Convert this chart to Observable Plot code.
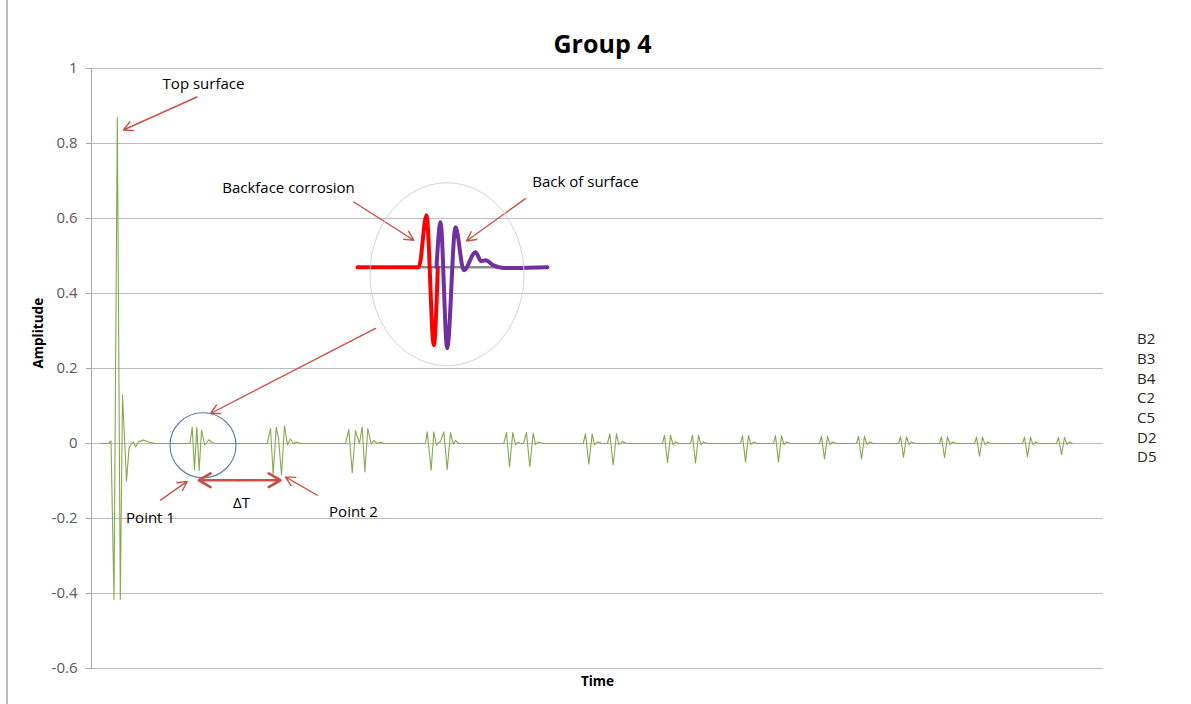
<!DOCTYPE html>
<html><head><meta charset="utf-8">
<script src="https://cdn.jsdelivr.net/npm/d3@7"></script>
<script src="https://cdn.jsdelivr.net/npm/@observablehq/plot@0.6"></script>
<style>
body{margin:0;background:#fff}
#chart{position:relative;width:1191px;height:704px}
</style></head><body><div id="chart"></div>
<script>
// ---------- data (time in arbitrary units, amplitude) ----------
const yTicks = [-0.6, -0.4, -0.2, 0, 0.2, 0.4, 0.6, 0.8, 1];
const legendLabels = ["B2", "B3", "B4", "C2", "C5", "D2", "D5"];

const mainPulse = [[9,0],[17,0],[19.5,0.007],[22.5,-0.415],[25.8,0.87],[28.8,-0.415],[31,0.13],[35,-0.10],[37.5,-0.013],[40,0],[42,0.004],[44,-0.009],[47.5,0.005],[52,0.009],[57,0.004],[64,0]];
const echo1 = [[97,0],[98.5,0],[100.7,0.043],[103,-0.070],[105.3,0.043],[107.7,-0.072],[110,0.036],[113.3,-0.004],[117.3,0.010],[120.7,0.002],[124,0]];
const echo2 = [[175.7,0],[179,0.040],[181.7,-0.082],[184.7,0.043],[187,0.015],[190,-0.084],[193,0.047],[196,-0.004],[199,0.012],[202,0],[205,0.004],[209,0]];
const echo3 = [[254,0],[257.3,0.037],[260.7,-0.078],[264,0.034],[268,0],[270.7,0.044],[273.3,-0.076],[276.3,0.040],[279.7,-0.002],[282.3,0.008],[285.7,0],[289,0.003],[293,0]];
const echo4 = [[334,0],[335.7,0.031],[339.7,-0.071],[342.3,0.031],[345,-0.004],[347.3,0.003],[349,0.005],[352.3,0.031],[355.7,-0.069],[359,0.029],[361.7,-0.002],[364,0.008],[367.3,0]];
const echo5 = [[412.3,0],[415,0.029],[418,-0.062],[421.3,0.029],[424,-0.003],[426.3,0.003],[429,0],[432,0],[435,0.029],[438.3,-0.062],[441.7,0.028],[444,-0.003],[446.3,0.004],[449,0.002],[454,0]];
const echo6 = [[491.7,0],[494,0.026],[497.3,-0.055],[500.7,0.026],[503,-0.003],[506.3,0.004],[510.7,0],[516,0],[518.3,0.026],[521.7,-0.057],[525,0.026],[527.3,-0.003],[530.7,0.005],[535.7,0]];
const echo7 = [[571,0],[573,0.022],[576,-0.051],[579,0.022],[581.5,-0.003],[584,0.004],[588,0],[599,0],[601,0.022],[604,-0.052],[607,0.022],[609.5,-0.003],[612,0.004],[616,0]];
const echo8 = [[649,0],[651,0.021],[654,-0.049],[657,0.021],[659.5,-0.003],[662,0.004],[666,0],[682,0],[684,0.021],[687,-0.049],[690,0.021],[692.5,-0.003],[695,0.004],[699,0]];
const echo9 = [[728,0],[730,0.019],[733,-0.041],[736,0.019],[738.5,-0.003],[741,0.004],[745,0],[765,0],[767,0.019],[770,-0.042],[773,0.019],[775.5,-0.003],[778,0.004],[782,0]];
const echo10 = [[807,0],[809,0.018],[812,-0.037],[815,0.018],[817.5,-0.003],[820,0.004],[824,0],[848,0],[850,0.018],[853,-0.038],[856,0.018],[858.5,-0.003],[861,0.004],[865,0]];
const echo11 = [[883,0],[885,0.017],[888,-0.034],[891,0.017],[893.5,-0.003],[896,0.004],[900,0],[931,0],[933,0.017],[936,-0.035],[939,0.017],[941.5,-0.003],[944,0.004],[948,0]];
const echo12 = [[965,0],[967,0.016],[970,-0.030],[973,0.016],[975.5,-0.003],[978,0.004],[981,0]];

// inset (zoomed echo) drawn in chart coordinates
const insetGray = [[326,0.470],[441,0.470]];
const insetRed = [[266,0.470],[327.3,0.470],[335,0.609],[342.3,0.262],[346.3,0.470]];
const insetPurple = [[345,0.470],[349,0.590],[355.7,0.254],[364,0.577],[372.3,0.462],[384,0.510],[389.7,0.486],[394,0.489],[402,0.475],[412,0.468],[424,0.468],[456,0.470]];

// annotations
const labelText = ["Top surface", "Backface corrosion", "Back of surface", "Point 1", "\u0394T", "Point 2"];
const labelT = [112, 197, 494, 59, 150, 262];
const labelA = [0.958, 0.681, 0.697, -0.199, -0.159, -0.182];
const arrowsThin = [
  {x1:105.4, y1:0.924, x2:31.9, y2:0.836},
  {x1:262.3, y1:0.644, x2:322.3, y2:0.542},
  {x1:434, y1:0.653, x2:375, y2:0.540},
  {x1:284, y1:0.307, x2:119, y2:0.080},
  {x1:69, y1:-0.151, x2:95.7, y2:-0.101},
  {x1:225.7, y1:-0.138, x2:194, y2:-0.089}
];
const deltaT = {from:107.3, to:189, a:-0.098};
const insetEllipse = {t:356, a:0.450, rx:77, ry:0.244};
const echoCircle = {t:112, a:-0.006, rx:33, ry:0.0867};

// ---------- build ----------
const toRows = arr => arr.map(([t, a]) => ({t, a}));
const trace = toRows([...mainPulse, ...echo1, ...echo2, ...echo3, ...echo4, ...echo5, ...echo6,
  ...echo7, ...echo8, ...echo9, ...echo10, ...echo11, ...echo12]);
const labels = labelText.map((s, i) => ({s, t: labelT[i], a: labelA[i]}));
const midT = (deltaT.from + deltaT.to) / 2;
const dtArrows = [
  {x1: midT, y1: deltaT.a, x2: deltaT.from, y2: deltaT.a},
  {x1: midT, y1: deltaT.a, x2: deltaT.to, y2: deltaT.a}
];
const FONT = "'Open Sans', 'DejaVu Sans', sans-serif";
const ARROW = "#c9504a";

const chart = Plot.plot({
  width: 1191, height: 704,
  marginLeft: 91, marginRight: 88, marginTop: 68, marginBottom: 36,
  style: {fontFamily: FONT, fontSize: "15px", background: "#fff", color: "#595959"},
  x: {domain: [0, 1012], axis: null},
  y: {domain: [-0.6, 1], axis: null},
  marks: [
    Plot.gridY(yTicks, {stroke: "#bdbdbd", strokeOpacity: 1}),
    Plot.ruleX([0], {stroke: "#a6a6a6"}),
    Plot.axisY({ticks: yTicks, tickSize: 5, tickPadding: 9, label: null,
      tickFormat: d => String(d), stroke: "#a6a6a6", fill: "#595959", fontSize: 15}),
    Plot.line(trace, {x: "t", y: "a", stroke: "#86a84f", strokeWidth: 1.1}),
    Plot.line(toRows(insetGray), {x: "t", y: "a", stroke: "#8c8c8c", strokeWidth: 2.5}),
    Plot.line(toRows(insetRed), {x: "t", y: "a", stroke: "#ff0000", strokeWidth: 4, curve: "monotone-x", strokeLinejoin: "round"}),
    Plot.line(toRows(insetPurple), {x: "t", y: "a", stroke: "#7030a0", strokeWidth: 4, curve: "monotone-x", strokeLinejoin: "round"}),
    Plot.arrow(arrowsThin, {x1: "x1", y1: "y1", x2: "x2", y2: "y2", stroke: ARROW, strokeWidth: 1.4, headLength: 11, headAngle: 55}),
    Plot.arrow(dtArrows, {x1: "x1", y1: "y1", x2: "x2", y2: "y2", stroke: ARROW, strokeWidth: 2.6, headLength: 12, headAngle: 60}),
    Plot.text(labels, {x: "t", y: "a", text: "s", fill: "#000", fontSize: 15}),
    Plot.text(["Group 4"], {frameAnchor: "top", dx: 5, dy: -33, fontSize: 25, fontWeight: "bold", fill: "#000"}),
    Plot.text(["Amplitude"], {frameAnchor: "left", dx: -53, rotate: -90, fontSize: 13.5, fontWeight: "bold", fill: "#000"}),
    Plot.text(["Time"], {frameAnchor: "bottom", dy: 17, fontSize: 13.5, fontWeight: "bold", fill: "#000"})
  ]
});
document.getElementById("chart").append(chart);

const sx = chart.scale("x"), sy = chart.scale("y");
const svg = d3.select(chart);
const px = t => sx.apply(t), py = a => sy.apply(a);
const pxLen = r => sx.apply(r) - sx.apply(0);
const pyLen = r => sy.apply(0) - sy.apply(r);

svg.append("ellipse")
  .attr("cx", px(insetEllipse.t)).attr("cy", py(insetEllipse.a))
  .attr("rx", pxLen(insetEllipse.rx)).attr("ry", pyLen(insetEllipse.ry))
  .attr("fill", "none").attr("stroke", "#cfd4de").attr("stroke-width", 1);
svg.append("ellipse")
  .attr("cx", px(echoCircle.t)).attr("cy", py(echoCircle.a))
  .attr("rx", pxLen(echoCircle.rx)).attr("ry", pyLen(echoCircle.ry))
  .attr("fill", "none").attr("stroke", "#5a7aaa").attr("stroke-width", 1.1);

// legend (series names)
const lg = svg.append("g").attr("font-family", FONT).attr("font-size", 15)
  .attr("fill", "#262626").attr("text-anchor", "start");
legendLabels.forEach((s, i) => {
  lg.append("text").attr("x", 1137).attr("y", 339 + i * 19.7).attr("dy", "0.35em").text(s);
});
// chart border (left edge)
svg.append("line").attr("x1", 7).attr("x2", 7).attr("y1", 0).attr("y2", 704)
  .attr("stroke", "#8c8c8c").attr("stroke-width", 1.2);
</script></body></html>
